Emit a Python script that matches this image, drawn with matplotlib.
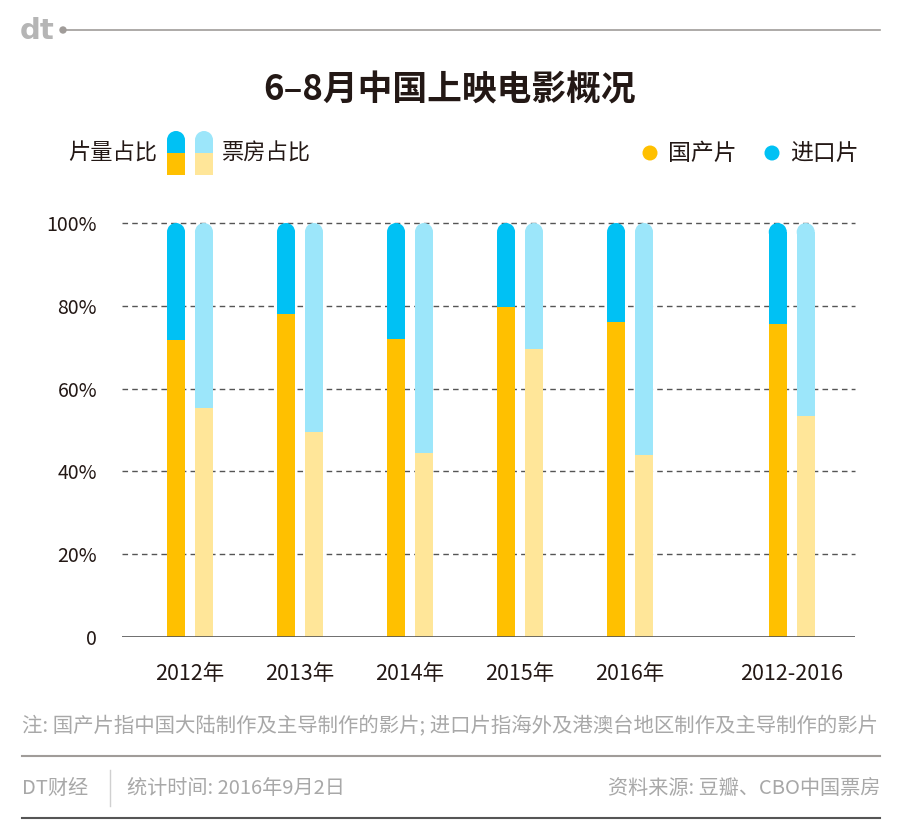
import matplotlib

matplotlib.use("Agg")
import matplotlib.pyplot as plt
import numpy as np
from matplotlib.patches import Ellipse, Rectangle, Circle

plt.rcParams["font.family"] = ["Noto Sans CJK SC", "DejaVu Sans"]

# data (percent of domestic films)
categories = ["2012年", "2013年", "2014年", "2015年", "2016年", "2012-2016"]
count_domestic = [71.7, 78.0, 72.0, 79.7, 76.1, 75.6]
box_domestic = [55.3, 49.5, 44.4, 69.6, 44.0, 53.4]
group_pos = [0, 1, 2, 3, 4, 5.47]
y_ticks = [0, 20, 40, 60, 80, 100]
y_tick_labels = ["0", "20%", "40%", "60%", "80%", "100%"]

YELLOW = "#FFC000"
BLUE = "#00C1F4"
LIGHT_YELLOW = "#FFE699"
LIGHT_BLUE = "#9CE6FA"
GRAY = "#A8A8A8"
DARK = "#231815"

W, H = 900, 830
fig = plt.figure(figsize=(W / 100, H / 100), dpi=100)

# overlay for decorations, in pixel coords (y down)
deco = fig.add_axes([0, 0, 1, 1])
deco.set_xlim(0, W)
deco.set_ylim(H, 0)
deco.axis("off")


def px_axes(left, top, right, bottom):
    return [left / W, (H - bottom) / H, (right - left) / W, (bottom - top) / H]


ax = fig.add_axes(px_axes(122, 223, 855, 637))
ax.set_xlim(-0.618, 6.045)
ax.set_ylim(0, 100)

ax_h_px = 637 - 223
cap_r = 9 * 100 / ax_h_px  # cap radius in data units (y)
bar_w = 0.164
offset = 0.127

x = np.array(group_pos)
cnt = np.array(count_domestic)
box = np.array(box_domestic)

for xs, dom, c_dom, c_imp in [
    (x - offset, cnt, YELLOW, BLUE),
    (x + offset, box, LIGHT_YELLOW, LIGHT_BLUE),
]:
    ax.bar(xs, dom, width=bar_w, color=c_dom, zorder=3)
    ax.bar(xs, 100 - dom - cap_r, bottom=dom, width=bar_w, color=c_imp, zorder=3)
    for xi in xs:
        ax.add_patch(Ellipse((xi, 100 - cap_r), bar_w, 2 * cap_r, color=c_imp,
                             zorder=3, clip_on=False, lw=0))

for yv in y_ticks[1:]:
    ax.axhline(yv, color="#555555", lw=1, ls=(0, (4, 3)), zorder=1, clip_on=False)
ax.axhline(0, color="#555555", lw=1.2, zorder=4)

for s in ax.spines.values():
    s.set_visible(False)
ax.set_yticks(y_ticks)
ax.set_yticklabels(y_tick_labels, fontsize=14, color=DARK)
ax.set_xticks(x)
ax.set_xticklabels(categories, fontsize=15.5, color=DARK)
ax.tick_params(axis="both", length=0)
ax.tick_params(axis="y", pad=18)
ax.tick_params(axis="x", pad=19)

# top logo and line
deco.text(37, 31, "dt", fontsize=21, fontweight="bold", color="#B5B5B5",
          ha="center", va="center", family=["DejaVu Sans"])
deco.add_patch(Circle((63, 30), 3, color="#A09C99"))
deco.plot([63, 880], [30, 30], color="#A09C99", lw=1.2)

# title
deco.text(450, 90, "6–8月中国上映电影概况", fontsize=25, fontweight="bold",
          color=DARK, ha="center", va="center")

# legend left
deco.text(68, 153, "片量占比", fontsize=16, color=DARK, va="center", ha="left")
deco.text(222, 153, "票房占比", fontsize=16, color=DARK, va="center", ha="left")
for lx, ctop, cbot in [(167, BLUE, YELLOW), (195, LIGHT_BLUE, LIGHT_YELLOW)]:
    deco.add_patch(Rectangle((lx, 153), 18, 22, color=cbot, lw=0))
    deco.add_patch(Rectangle((lx, 140), 18, 13, color=ctop, lw=0))
    deco.add_patch(Circle((lx + 9, 140), 9, color=ctop, lw=0))

# legend right
deco.add_patch(Circle((650, 153), 7.5, color=YELLOW, lw=0))
deco.text(668, 153, "国产片", fontsize=16.5, color=DARK, va="center", ha="left")
deco.add_patch(Circle((772, 153), 7.5, color=BLUE, lw=0))
deco.text(790, 153, "进口片", fontsize=16.5, color=DARK, va="center", ha="left")

# footer
deco.text(22, 727, "注: 国产片指中国大陆制作及主导制作的影片; 进口片指海外及港澳台地区制作及主导制作的影片",
          fontsize=14.7, color=GRAY, va="center", ha="left")
deco.plot([22, 880], [756, 756], color="#A09C99", lw=1.5)
deco.text(22, 788, "DT财经", fontsize=14.5, color=GRAY, va="center", ha="left")
deco.plot([110, 110], [770, 806], color="#D0D0D0", lw=1)
deco.text(127, 788, "统计时间: 2016年9月2日", fontsize=14.5, color=GRAY, va="center", ha="left")
deco.text(880, 788, "资料来源: 豆瓣、CBO中国票房", fontsize=14.5, color=GRAY, va="center", ha="right")
deco.plot([22, 880], [818, 818], color="#555555", lw=1.5)

fig.savefig("out.png", dpi=100)
